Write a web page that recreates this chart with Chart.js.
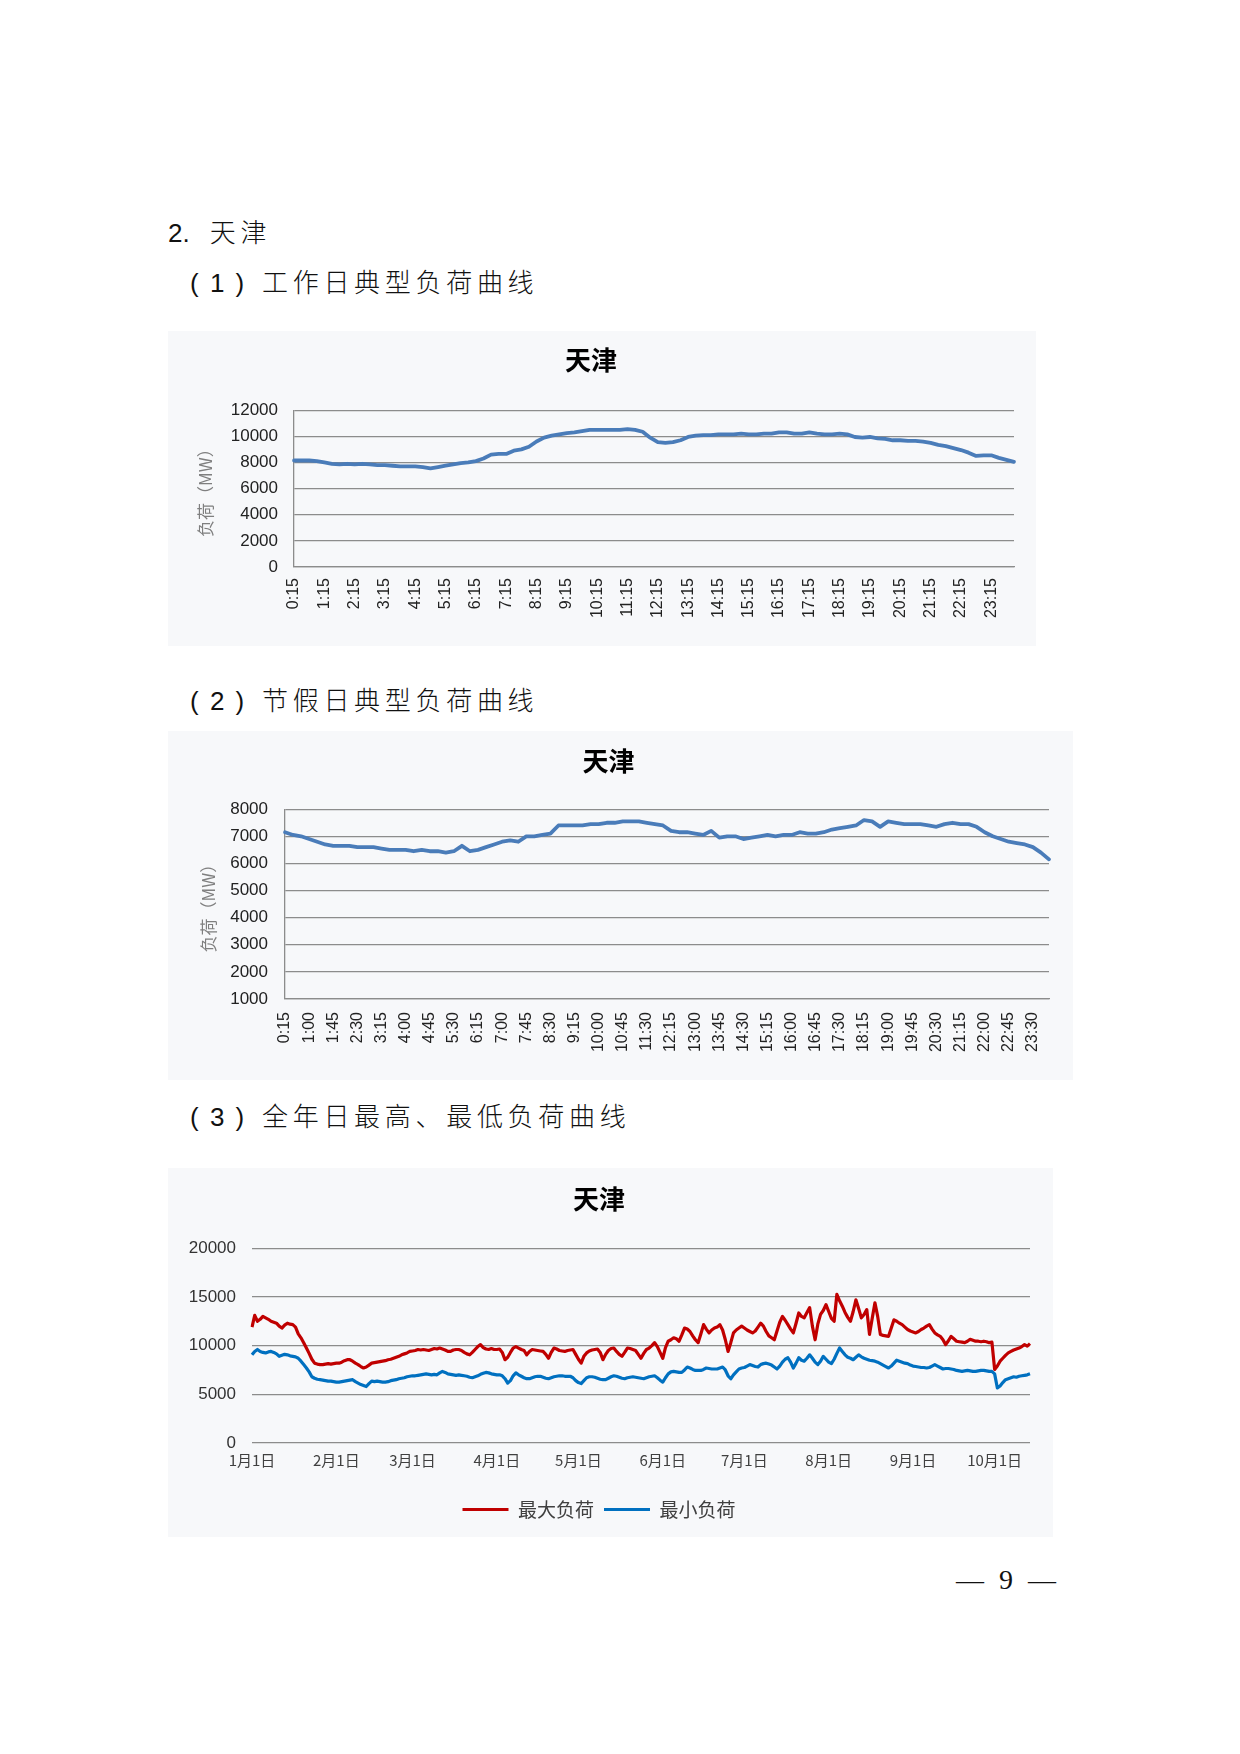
<!DOCTYPE html>
<html lang="zh-CN">
<head>
<meta charset="utf-8">
<title>天津负荷曲线</title>
<script src="https://cdn.jsdelivr.net/npm/chart.js@4.4.1/dist/chart.umd.min.js"></script>
<style>
  html, body { margin: 0; padding: 0; background: #ffffff; }
  body { width: 1240px; height: 1754px; position: relative; overflow: hidden; }
  .head { position: absolute; font-family: 'Noto Sans CJK SC', sans-serif; font-weight: 300;
          font-size: 26px; line-height: 26px; color: #111; letter-spacing: 4.7px; white-space: nowrap; }
  .num { display: inline-block; width: 72px; font-family: 'Liberation Sans', sans-serif; letter-spacing: 2px; }
  .box { position: absolute; background: #f7f8fa; }
  .box canvas { display: block; }
  .page { position: absolute; font-family: 'Liberation Serif', serif; font-size: 28px; line-height: 28px;
          word-spacing: 8px; color: #111; white-space: nowrap; }
</style>
</head>
<body>
<div class="head" style="left:168px; top:218px;"><span style="font-family:'Liberation Sans',sans-serif;letter-spacing:0;margin-right:20px;">2.</span>天津</div>
<div class="head" style="left:190px; top:268px;"><span class="num">( 1 )</span>工作日典型负荷曲线</div>
<div class="head" style="left:190px; top:686px;"><span class="num">( 2 )</span>节假日典型负荷曲线</div>
<div class="head" style="left:190px; top:1102px;"><span class="num">( 3 )</span>全年日最高、最低负荷曲线</div>

<div class="box" style="left:168px; top:331px; width:868px; height:315px;"><canvas id="c1"></canvas></div>
<div class="box" style="left:168px; top:731px; width:905px; height:349px;"><canvas id="c2"></canvas></div>
<div class="box" style="left:168px; top:1168px; width:885px; height:369px;"><canvas id="c3"></canvas></div>

<div class="page" style="left:956px; top:1566px;">— 9 —</div>

<script>
// ---------- data ----------
const chartTitle = '天津';
const yAxisTitle = '负荷（MW）';

// 96 quarter-hour points, 0:15 ... 24:00
const workdayLoad = [
  8150, 8150, 8150, 8100, 8000, 7900, 7850, 7900, 7850, 7900, 7850, 7800,
  7800, 7750, 7700, 7700, 7700, 7650, 7550, 7650, 7750, 7850, 7950, 8000,
  8100, 8300, 8600, 8650, 8650, 8900, 9000, 9200, 9600, 9900, 10050, 10150,
  10250, 10300, 10400, 10500, 10500, 10500, 10500, 10500, 10550, 10500, 10350, 9900,
  9550, 9500, 9550, 9700, 9950, 10050, 10100, 10100, 10150, 10150, 10150, 10200,
  10150, 10150, 10200, 10200, 10300, 10300, 10200, 10200, 10300, 10200, 10150, 10150,
  10200, 10150, 9950, 9900, 9950, 9850, 9800, 9700, 9700, 9650, 9650, 9600,
  9500, 9350, 9250, 9100, 8950, 8750, 8500, 8550, 8550, 8350, 8200, 8050
];

const holidayLoad = [
  7150, 7050, 7000, 6900, 6800, 6700, 6650, 6650, 6650, 6600, 6600, 6600,
  6550, 6500, 6500, 6500, 6450, 6500, 6450, 6450, 6400, 6450, 6650, 6450,
  6500, 6600, 6700, 6800, 6850, 6800, 7000, 7000, 7050, 7100, 7400, 7400,
  7400, 7400, 7450, 7450, 7500, 7500, 7550, 7550, 7550, 7500, 7450, 7400,
  7200, 7150, 7150, 7100, 7050, 7200, 6950, 7000, 7000, 6900, 6950, 7000,
  7050, 7000, 7050, 7050, 7150, 7100, 7100, 7150, 7250, 7300, 7350, 7400,
  7600, 7550, 7350, 7550, 7500, 7450, 7450, 7450, 7400, 7350, 7450, 7500,
  7450, 7450, 7350, 7150, 7000, 6900, 6800, 6750, 6700, 6600, 6400, 6150
];

// daily values, 1月1日 ... 10月14日 (287 days)
const maxLoad = [
  11900, 13100, 12500, 12700, 13000, 12850, 12700, 12500, 12400, 12300,
  12000, 11800, 12100, 12300, 12200, 12150, 11900, 11200, 10800, 10300,
  9750, 9200, 8600, 8200, 8100, 8050, 8050, 8100, 8150, 8100,
  8150, 8200, 8200, 8300, 8450, 8550, 8550, 8400, 8200, 8050,
  7850, 7700, 7800, 8000, 8200, 8250, 8300, 8350, 8400, 8450,
  8550, 8600, 8700, 8800, 8900, 9050, 9150, 9250, 9400, 9450,
  9500, 9600, 9550, 9600, 9550, 9500, 9600, 9700, 9650, 9750,
  9650, 9550, 9400, 9400, 9550, 9600, 9600, 9500, 9300, 9150,
  9050, 9300, 9600, 9900, 10100, 9800, 9650, 9600, 9700, 9600,
  9600, 9650, 9300, 8550, 8800, 9300, 9750, 9900, 9750, 9600,
  9500, 9050, 9400, 9600, 9550, 9500, 9450, 9400, 9100, 8700,
  9300, 9750, 9650, 9500, 9450, 9400, 9500, 9550, 9600, 9100,
  8600, 8200, 8900, 9250, 9450, 9550, 9600, 9650, 9300, 8550,
  9100, 9500, 9700, 9750, 9400, 9100, 8900, 9300, 9750, 9700,
  9600, 9500, 9100, 8700, 9200, 9600, 9750, 10000, 10300, 9900,
  9300, 8700, 9800, 10450, 10600, 10800, 10700, 10450, 11100, 11800,
  11700, 11450, 11000, 10600, 10300, 11200, 12150, 11700, 11300, 11600,
  11800, 11900, 12150, 11600, 10600, 9400, 10300, 11300, 11600, 11800,
  12000, 11800, 11600, 11450, 11300, 11500, 11900, 12300, 12000, 11450,
  11000, 10800, 10600, 11500, 12400, 13000, 12600, 12150, 11700, 11300,
  12300, 13350, 13000, 12850, 13400, 13900, 12000, 10600, 12200, 13200,
  13600, 14200, 13500, 12800, 12500, 15250, 14600, 14050, 13400, 12900,
  12500, 13500, 14700, 13800, 12850, 13200, 13700, 11150, 12800, 14400,
  13000, 11150, 11050, 11000, 10950, 11800, 12650, 12500, 12300, 12150,
  11900, 11650, 11500, 11400, 11300, 11450, 11650, 11800, 12000, 12150,
  11700, 11300, 11100, 10950, 10600, 10100, 10500, 10950, 10700, 10450,
  10400, 10350, 10300, 10450, 10650, 10550, 10450, 10450, 10400, 10450,
  10400, 10300, 10350, 7550, 7900, 8400, 8700, 9000, 9250, 9400,
  9550, 9650, 9750, 9900, 10100, 9950, 10200
];

const minLoad = [
  9050, 9400, 9600, 9400, 9300, 9250, 9350, 9400, 9300, 9150,
  8900, 9000, 9100, 9050, 8950, 8900, 8850, 8700, 8400, 8050,
  7700, 7300, 6800, 6650, 6550, 6500, 6450, 6400, 6350, 6350,
  6300, 6250, 6250, 6300, 6350, 6400, 6450, 6500, 6300, 6150,
  6000, 5900, 5800, 6100, 6350, 6300, 6350, 6300, 6250, 6250,
  6300, 6400, 6450, 6500, 6600, 6650, 6700, 6800, 6850, 6900,
  6900, 6950, 7000, 7050, 7100, 7050, 7000, 7050, 7000, 7200,
  7350, 7250, 7100, 7050, 7000, 6950, 7000, 6950, 6900, 6850,
  6750, 6700, 6800, 6900, 7050, 7150, 7250, 7200, 7100, 7050,
  7000, 7000, 6900, 6600, 6150, 6400, 6900, 7200, 7000, 6850,
  6700, 6600, 6600, 6700, 6800, 6850, 6850, 6750, 6650, 6600,
  6700, 6800, 6850, 6900, 6900, 6850, 6850, 6850, 6700, 6400,
  6200, 6100, 6400, 6700, 6800, 6800, 6750, 6650, 6550, 6500,
  6500, 6650, 6800, 6900, 6850, 6750, 6650, 6600, 6700, 6750,
  6800, 6750, 6700, 6650, 6600, 6700, 6800, 6850, 6900, 6700,
  6450, 6250, 6700, 7100, 7300, 7350, 7300, 7250, 7250, 7500,
  7800, 7700, 7550, 7450, 7450, 7450, 7550, 7700, 7650, 7600,
  7600, 7600, 7700, 7800, 7500, 6900, 6600, 7000, 7300, 7600,
  7700, 7750, 7900, 8050, 7950, 7850, 7800, 8050, 8150, 8200,
  8100, 8000, 7800, 7600, 7900, 8300, 8600, 8750, 8300, 7700,
  8200, 8750, 8500, 8400, 8700, 9050, 8700, 8300, 8050, 8400,
  8900, 8600, 8300, 8150, 8600, 9200, 9750, 9400, 9050, 8800,
  8700, 8550, 8800, 9050, 8850, 8700, 8600, 8500, 8450, 8400,
  8300, 8150, 8000, 7850, 7700, 7900, 8200, 8500, 8400, 8300,
  8200, 8150, 8000, 7900, 7850, 7800, 7750, 7750, 7700, 7750,
  7900, 8050, 7900, 7750, 7600, 7650, 7650, 7600, 7550, 7450,
  7400, 7350, 7400, 7450, 7400, 7350, 7350, 7400, 7450, 7450,
  7400, 7350, 7350, 7100, 5650, 5850, 6200, 6500, 6600, 6700,
  6800, 6750, 6850, 6900, 6950, 7000, 7100
];

const seriesNames = ['最大负荷', '最小负荷'];
const monthLengths = [31, 28, 31, 30, 31, 30, 31, 31, 30, 31];
const yTicks1 = { min: 0, max: 12000, step: 2000 };
const yTicks2 = { min: 1000, max: 8000, step: 1000 };
const yTicks3 = { min: 0, max: 20000, step: 5000 };

// ---------- category labels ----------
const timeLabels = [];
for (let i = 1; i <= 96; i++) {
  const m = i * 15;
  const h = Math.floor(m / 60), mm = m % 60;
  timeLabels.push(h + ':' + (mm < 10 ? '0' + mm : mm));
}
const dateLabels = [];
const dateDay = [];
outer:
for (let mo = 0; mo < monthLengths.length; mo++) {
  for (let d = 1; d <= monthLengths[mo]; d++) {
    if (dateLabels.length >= maxLoad.length) break outer;
    dateLabels.push((mo + 1) + '月' + d + '日');
    dateDay.push(d);
  }
}

// ---------- styling ----------
Chart.defaults.font.family = "'Liberation Sans', 'Noto Sans CJK SC', sans-serif";
Chart.defaults.animation = false;
const GRID = '#8c8c8c';
const LINE_BLUE = '#4a7cb9';
const plainNum = v => String(v);

function titleCfg(padTop, padBottom) {
  return {
    display: true, text: chartTitle, color: '#000',
    font: { family: "'Noto Sans CJK SC', sans-serif", size: 26, weight: 'bold', lineHeight: 1.2 },
    padding: { top: padTop, bottom: padBottom }
  };
}

function dailyChart(id, data, labels, yt, every, geo) {
  return new Chart(document.getElementById(id), {
    type: 'line',
    data: {
      labels: labels,
      datasets: [{
        label: chartTitle, data: data, borderColor: LINE_BLUE, backgroundColor: LINE_BLUE,
        borderWidth: 3.8, pointRadius: 0, tension: 0, borderJoinStyle: 'round', borderCapStyle: 'round'
      }]
    },
    options: {
      responsive: true, maintainAspectRatio: false,
      layout: { padding: { left: 0, right: geo.right, top: 0, bottom: 0 } },
      plugins: { legend: { display: false }, tooltip: { enabled: false }, title: titleCfg(geo.tTop, geo.tBottom) },
      scales: {
        x: {
          type: 'category', offset: false,
          grid: { display: false, drawTicks: false },
          border: { display: true, color: GRID, width: 1.3 },
          ticks: {
            autoSkip: false, minRotation: 90, maxRotation: 90, padding: geo.xPad,
            color: '#222', font: { size: 16 },
            callback: function (v, i) { return i % every === 0 ? this.getLabelForValue(v) : null; }
          },
          afterFit: s => { s.height = geo.xH; }
        },
        y: {
          min: yt.min, max: yt.max,
          grid: { color: GRID, lineWidth: 1.3, drawTicks: false },
          border: { display: true, color: GRID, width: 1.3 },
          ticks: { stepSize: yt.step, padding: geo.yPad, color: '#222', font: { size: 17 }, callback: plainNum },
          title: {
            display: true, text: yAxisTitle, color: '#7f7f7f',
            font: { family: "'Noto Sans CJK SC', sans-serif", size: 17, lineHeight: 1.2 },
            padding: { top: geo.ytPad, bottom: 0 }
          },
          afterFit: s => { s.width = geo.yW; }
        }
      }
    }
  });
}

dailyChart('c1', workdayLoad, timeLabels, yTicks1, 4,
  { right: 22, tTop: 14, tBottom: 34, xPad: 11, xH: 79, yPad: 16, yW: 126, ytPad: 27 });
dailyChart('c2', holidayLoad, timeLabels, yTicks2, 3,
  { right: 24, tTop: 15, tBottom: 32, xPad: 13, xH: 81, yPad: 17, yW: 117, ytPad: 30 });

new Chart(document.getElementById('c3'), {
  type: 'line',
  data: {
    labels: dateLabels,
    datasets: [
      { label: seriesNames[0], data: maxLoad, borderColor: '#c00000', backgroundColor: '#c00000',
        borderWidth: 3.2, pointRadius: 0, tension: 0, borderJoinStyle: 'round' },
      { label: seriesNames[1], data: minLoad, borderColor: '#0070c0', backgroundColor: '#0070c0',
        borderWidth: 3.2, pointRadius: 0, tension: 0, borderJoinStyle: 'round' }
    ]
  },
  options: {
    responsive: true, maintainAspectRatio: false,
    layout: { padding: { left: 0, right: 23, top: 0, bottom: 8 } },
    plugins: {
      tooltip: { enabled: false },
      title: titleCfg(16, 33),
      legend: {
        display: true, position: 'bottom',
        labels: {
          usePointStyle: true, pointStyle: 'line', pointStyleWidth: 46,
          color: '#404040', padding: 10,
          font: { family: "'Noto Sans CJK SC', sans-serif", size: 19 }
        }
      }
    },
    scales: {
      x: {
        type: 'category', offset: false,
        grid: { display: false, drawTicks: false },
        border: { display: false },
        ticks: {
          autoSkip: false, maxRotation: 0, minRotation: 0, padding: 8,
          color: '#404040', font: { family: "'Noto Sans CJK SC', sans-serif", size: 15 },
          callback: function (v, i) { return dateDay[i] === 1 ? this.getLabelForValue(v) : null; }
        },
        afterFit: s => { s.height = 47; }
      },
      y: {
        min: yTicks3.min, max: yTicks3.max,
        grid: { color: GRID, lineWidth: 1.3, drawTicks: false },
        border: { display: false },
        ticks: { stepSize: yTicks3.step, padding: 16, color: '#333', font: { size: 17 }, callback: plainNum },
        afterFit: s => { s.width = 84; }
      }
    }
  }
});
</script>
</body>
</html>
